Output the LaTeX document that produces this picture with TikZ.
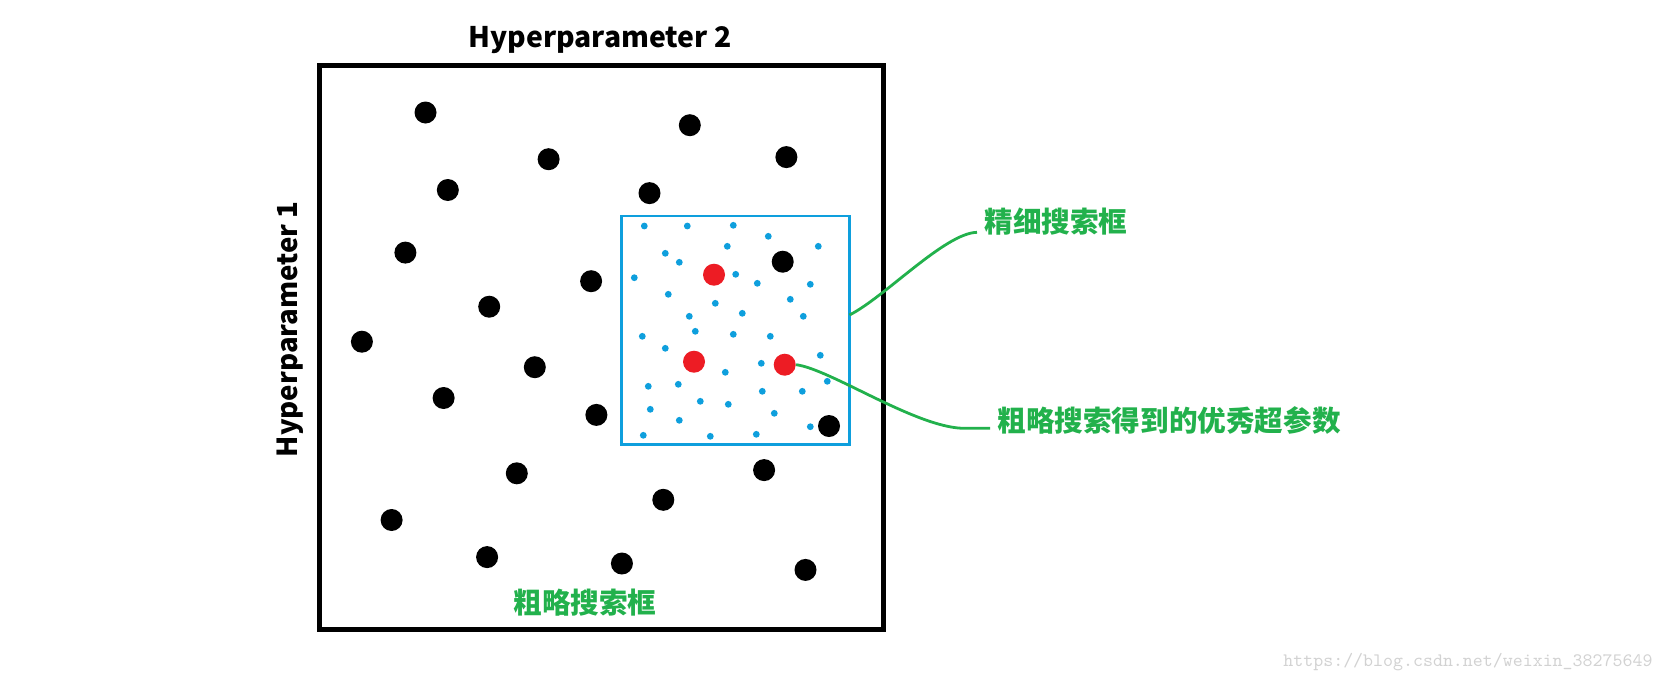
\documentclass[tikz,border=0pt]{standalone}
\usepackage{fontspec}
\usepackage{graphicx}
\newfontfamily\cjk{Noto Sans CJK SC}
\definecolor{pgreen}{HTML}{22B14C}
\definecolor{pblue}{HTML}{0E9FDD}
\definecolor{pred}{HTML}{ED1C24}
\definecolor{wmgray}{HTML}{D2D2D2}
\tikzset{
  bdot/.style={circle,fill=black,inner sep=0pt,minimum size=11pt},
  rdot/.style={circle,fill=pred,inner sep=0pt,minimum size=11pt},
  sdot/.style={circle,fill=pblue,inner sep=0pt,minimum size=3.4pt},
  gline/.style={draw=pgreen,line width=1.4pt},
  glabel/.style={inner sep=0pt,text=pgreen,font=\cjk\bfseries\fontsize{14.3pt}{16pt}\selectfont},
  hlabel/.style={inner sep=0pt,font=\cjk\bfseries},
}
\begin{document}
\begin{tikzpicture}[x=0.5pt,y=-0.5pt]
\useasboundingbox (0,0) rectangle (1664,692);
% boxes
\node[draw=black,line width=2.75pt,minimum width=282pt,minimum height=282pt,inner sep=0pt] (coarse) at (601.5,347.5) {};
\node[draw=pblue,line width=1.35pt,minimum width=114.1pt,minimum height=114.1pt,inner sep=0pt] (fine) at (735.4,330.1) {};
% black dots
\foreach \x/\y [count=\i] in {425.5/112.5,689.8/125.2,548.6/159.2,786.4/157.1,447.8/190,649.5/193.1,405.4/252.6,782.7/261.7,591.1/281.2,489.2/306.7,361.9/341.7,534.8/367.2,443.6/398,596.4/414.9,829/426,516.8/473.3,764.1/470.1,663.3/499.8,391.6/520,487.1/557.1,621.9/563.5,805.5/569.9}
  \node[bdot] (b\i) at (\x,\y) {};
% small blue dots
\foreach \x/\y [count=\i] in {644.3/226,687.3/226,733.3/225.3,768.3/236.3,727.3/246.3,818.3/246.3,665.3/253.3,679.3/262.3,634.3/277.7,735.7/274.3,757.3/283.3,810.3/284.3,668.3/294.3,790.3/299.3,715.3/303.3,689.3/316.3,742.3/313.3,803.3/316.3,642.3/336.3,695.3/331.3,733.3/334.3,770.3/336.3,665.3/348.3,820.3/355.3,761.3/363.3,725.3/372.3,827.3/381.3,648.3/386.3,678.3/384.3,762.3/391.3,802.3/391.3,700.3/401.3,728.3/404.3,650.3/409.3,774.3/413.3,679.3/420.3,810.3/426.7,643.3/435.3,710.3/436.3,756.3/434.3}
  \node[sdot] (s\i) at (\x,\y) {};
% red dots
\node[rdot] (r1) at (714,274.7) {};
\node[rdot] (r2) at (694,361.7) {};
\node[rdot] (r3) at (784.7,364.7) {};
% labels
\node[hlabel,anchor=base] (h2) at (600,47.3) {\resizebox{131.5pt}{!}{Hyperparameter 2}};
\node[hlabel,anchor=base,rotate=90] (h1) at (297.3,329.2) {\resizebox{128pt}{!}{Hyperparameter 1}};
\node[glabel,anchor=west] (t1) at (984,222) {精细搜索框};
\node[glabel,anchor=west] (t2) at (997,420.5) {粗略搜索得到的优秀超参数};
\node[glabel] (t3) at (585,602.5) {粗略搜索框};
\node[inner sep=0pt,anchor=base west,text=wmgray,font=\ttfamily\fontsize{9.5pt}{10pt}\selectfont] (wm) at (1283,666) {https://blog.csdn.net/weixin\_38275649};
% connectors
\coordinate (s1start) at (849.5,315);
\coordinate (e1) at (977,232.3);
\coordinate (e2) at (963,428.3);
\coordinate (e2b) at (990,428.3);
\draw[gline] (s1start) .. controls (885,297) and (945,233) .. (e1);
\draw[gline] (r3.east) .. controls (830,369) and (915,427) .. (e2) -- (e2b);
\end{tikzpicture}
\end{document}
